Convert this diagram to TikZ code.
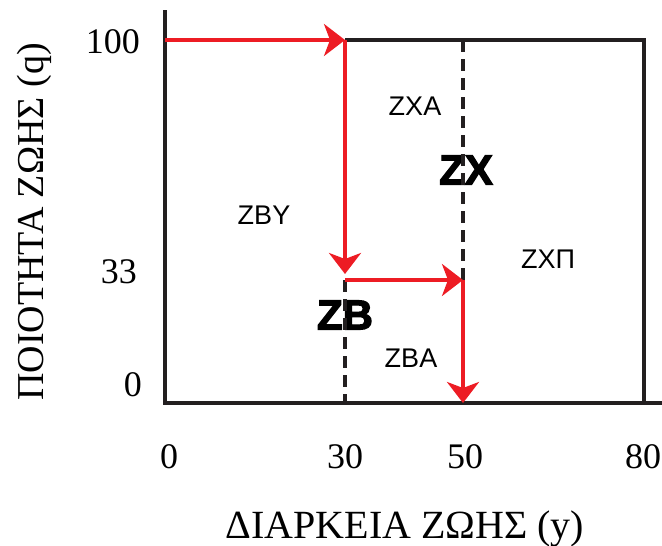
\documentclass[tikz,border=0pt]{standalone}
\usepackage{fontspec}
\setmainfont{Liberation Serif}
\newfontfamily\zonefont{Liberation Sans}
\newfontfamily\heavyfont{Liberation Sans Bold}[FakeBold=3]
\usepackage{tikz}
\usetikzlibrary{arrows.meta, calc}
\definecolor{arrowred}{RGB}{237,28,36}
\definecolor{ink}{RGB}{35,31,32}

\begin{document}
\begin{tikzpicture}[x=1pt, y=-1pt,
    frame/.style={line width=3.2pt, ink},
    zoneline/.style={line width=3.5pt, ink, dash pattern=on 12pt off 7pt},
    route/.style={line width=3.5pt, arrowred, -{Stealth[length=21pt, width=32pt, inset=6pt]}},
    ticklabel/.style={inner sep=0pt, font=\fontsize{36}{40}\selectfont},
    axistitle/.style={inner sep=0pt, font=\fontsize{40}{44}\selectfont},
    zonelabel/.style={inner sep=0pt, font=\zonefont\fontsize{27}{30}\selectfont},
    zonename/.style={inner sep=0pt, font=\heavyfont\fontsize{42}{46}\selectfont}]
    \useasboundingbox (0,0) rectangle (662,546);
    % corners and break points
    \coordinate (top) at (165,10);
    \coordinate (q100) at (165,40);
    \coordinate (origin) at (165,403);
    \coordinate (end) at (662,403);
    \coordinate (a) at (345,40);
    \coordinate (b) at (345,280);
    \coordinate (b0) at (345,403);
    \coordinate (c0) at (463,40);
    \coordinate (c) at (463,280);
    \coordinate (d) at (463,403);
    \coordinate (tr) at (644,40);
    \coordinate (br) at (644,403);
    % tick labels
    \node[ticklabel, anchor=east] (y100) at (140,42) {100};
    \node[ticklabel, anchor=east] (y33) at (137,272) {33};
    \node[ticklabel, anchor=east] (y0) at (142,385) {0};
    \foreach \x/\t in {169/0, 345/30, 465/50, 643/80} {
        \node[ticklabel] (x\t) at (\x,457) {\t};
    }
    % axis titles
    \node[axistitle, anchor=base] (xtitle) at (405,538) {ΔΙΑΡΚΕΙΑ ΖΩΗΣ (y)};
    \node[axistitle, anchor=base, rotate=90, font=\fontsize{38}{42}\selectfont] (ytitle) at (43,222) {ΠΟΙΟΤΗΤΑ ΖΩΗΣ (q)};
    % zones
    \node[zonelabel] (zxa) at (415,106) {ΖΧΑ};
    \node[zonelabel] (zby) at (264,215) {ΖΒΥ};
    \node[zonelabel] (zxp) at (548,259) {ΖΧΠ};
    \node[zonelabel] (zba) at (411,358) {ΖΒΑ};
    \node[zonename] (zx) at (466,170) {ΖΧ};
    \node[zonename] (zb) at (345,315) {ΖΒ};
    % frame
    \draw[frame] (top) -- (origin) -- (end);
    \draw[frame] (a) -- (tr) -- (br);
    \draw[zoneline] (c0) -- (d);
    \draw[zoneline] (b) -- (b0);
    % route
    \draw[route] (q100) -- (a);
    \draw[route, shorten >=6pt] (a) -- (b);
    \draw[route] (b) -- (c);
    \draw[route] (c) -- (d);
\end{tikzpicture}
\end{document}
